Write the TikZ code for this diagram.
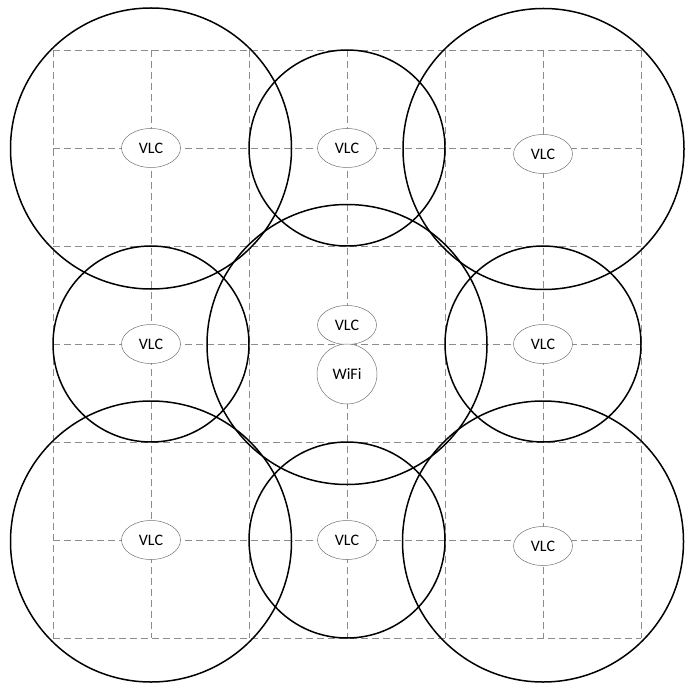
\documentclass[tikz,border=0pt]{standalone}
\usepackage{fontspec}
\setmainfont{Carlito}
\usetikzlibrary{shapes.geometric}
\begin{document}
\begin{tikzpicture}[x=1pt,y=-1pt,
  gridline/.style={draw=black!45,line width=0.8pt,dash pattern=on 7pt off 4pt},
  cell/.style={draw=black,line width=1.5pt},
  vlc/.style={ellipse,draw=black!55,line width=0.5pt,fill=white,minimum width=59pt,minimum height=39pt,inner sep=0pt,font=\fontsize{16}{18}\selectfont},
  wifi/.style={circle,draw=black!55,line width=0.5pt,fill=white,minimum size=60pt,inner sep=0pt,font=\fontsize{16}{18}\selectfont}]
\useasboundingbox (0,0) rectangle (695,692);
% grid
\foreach \k in {0,...,6}{
  \draw[gridline] (53+98*\k,50) -- (53+98*\k,638);
  \draw[gridline] (53,50+98*\k) -- (641,50+98*\k);
}
% large circles
\draw[cell] (151,148.5) circle (140.5);
\draw[cell] (543.5,149) circle (140.5);
\draw[cell] (151,541.5) circle (140.5);
\draw[cell] (543,541.5) circle (140.5);
\draw[cell] (347,344.5) circle (140);
% small circles
\draw[cell] (347,148) circle (98);
\draw[cell] (151,344) circle (98);
\draw[cell] (543,344) circle (98);
\draw[cell] (347,540) circle (98);
% access points
\node[vlc] (v1) at (151,148) {VLC};
\node[vlc] (v2) at (347,148) {VLC};
\node[vlc] (v3) at (543,154) {VLC};
\node[vlc] (v4) at (151,344) {VLC};
\node[vlc] (v5) at (347,325) {VLC};
\node[wifi] (w) at (347,374) {WiFi};
\node[vlc] (v6) at (543,344) {VLC};
\node[vlc] (v7) at (151,540) {VLC};
\node[vlc] (v8) at (347,540) {VLC};
\node[vlc] (v9) at (543,546) {VLC};
\end{tikzpicture}
\end{document}
